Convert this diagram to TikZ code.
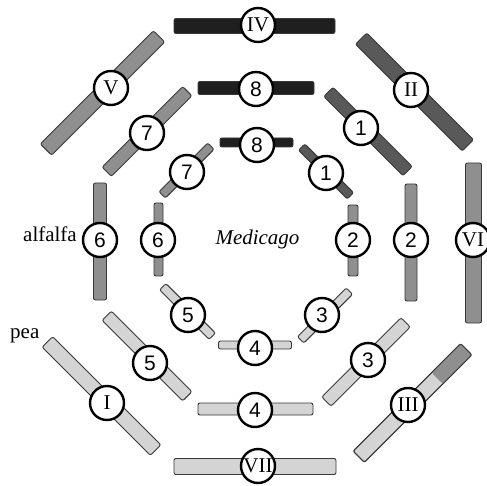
\documentclass[tikz,border=0pt]{standalone}
\usepackage{fontspec}
\setmainfont{Liberation Serif}
\newfontfamily\sansf{Liberation Sans}
\definecolor{cK}{gray}{0.12}
\definecolor{cD}{gray}{0.35}
\definecolor{cM}{gray}{0.56}
\definecolor{cL}{gray}{0.83}
\definecolor{cO}{gray}{0.22}
\begin{document}
\begin{tikzpicture}[x=1pt,y=-1pt,
  bar/.style={draw=cO, line width=0.9pt, rounded corners=2pt, inner sep=0pt, outer sep=0pt},
  cen/.style={circle, draw=black, line width=2.4pt, fill=white, minimum size=34pt, inner sep=0pt},
  dig/.style={cen, font=\sansf\fontsize{21}{21}\selectfont},
  rom/.style={cen, font=\fontsize{21}{21}\selectfont},
  lab/.style={font=\fontsize{21}{21}\selectfont, inner sep=0pt}]
\useasboundingbox (0,0) rectangle (487,486);
\fill[white] (0,0) rectangle (487,486);
% ---- outer ring (pea)
\node[bar, fill=cK, minimum width=161, minimum height=15] (bIV) at (254.5,26) {};
\node[rom] (IV) at (258,25) {IV};
\node[bar, fill=cD, minimum width=151, minimum height=16, rotate=-45] (bII) at (414.5,92) {};
\node[rom] (II) at (411,90) {II};
\node[bar, fill=cM, minimum width=16, minimum height=160] (bVI) at (473.5,243) {};
\node[rom] (VI) at (473,240) {VI};
\node[bar, fill=cL, minimum width=152, minimum height=16, rotate=45] (bIII) at (412.5,403) {};
\node[fill=cM, inner sep=0pt, rounded corners=2pt, minimum width=41, minimum height=15, rotate=45] (bIIId) at (451.7,363.8) {};
\node[bar, minimum width=152, minimum height=16, rotate=45] (bIIIo) at (412.5,403) {};
\node[rom] (III) at (408,405) {III};
\node[bar, fill=cL, minimum width=162, minimum height=16] (bVII) at (255,466.5) {};
\node[rom] (VII) at (258,466) {VII};
\node[bar, fill=cL, minimum width=153, minimum height=15, rotate=-45] (bI) at (101.5,396) {};
\node[rom] (I) at (107,403) {I};
\node[bar, fill=cM, minimum width=160, minimum height=16, rotate=45] (bV) at (102.5,93) {};
\node[rom] (V) at (111,88) {V};
% ---- middle ring (alfalfa)
\node[bar, fill=cK, minimum width=116, minimum height=13] (bm8) at (256,88) {};
\node[dig] (m8) at (256,89) {8};
\node[bar, fill=cD, minimum width=112, minimum height=13, rotate=-45] (bm1) at (368,131.5) {};
\node[dig] (m1) at (361,128) {1};
\node[bar, fill=cM, minimum width=12, minimum height=117] (bm2) at (411,242.5) {};
\node[dig] (m2) at (411,240) {2};
\node[bar, fill=cL, minimum width=112, minimum height=13, rotate=45] (bm3) at (366,362) {};
\node[dig] (m3) at (368,360) {3};
\node[bar, fill=cL, minimum width=115, minimum height=12] (bm4) at (255.5,409) {};
\node[dig] (m4) at (255,410) {4};
\node[bar, fill=cL, minimum width=114, minimum height=13, rotate=-45] (bm5) at (147,356) {};
\node[dig] (m5) at (150,363) {5};
\node[bar, fill=cM, minimum width=13, minimum height=117] (bm6) at (100,241.5) {};
\node[dig] (m6) at (100,240) {6};
\node[bar, fill=cM, minimum width=114, minimum height=13, rotate=45] (bm7) at (147,131.5) {};
\node[dig] (m7) at (147,133) {7};
% ---- inner ring (Medicago)
\node[bar, fill=cK, minimum width=73, minimum height=9] (bi8) at (256.5,142.5) {};
\node[dig] (i8) at (257,145) {8};
\node[bar, fill=cD, minimum width=69, minimum height=9, rotate=-45] (bi1) at (326,171.5) {};
\node[dig] (i1) at (326,173) {1};
\node[bar, fill=cM, minimum width=10, minimum height=71] (bi2) at (353,240.5) {};
\node[dig] (i2) at (353,240) {2};
\node[bar, fill=cL, minimum width=69, minimum height=9, rotate=45] (bi3) at (325,315.5) {};
\node[dig] (i3) at (322,315) {3};
\node[bar, fill=cL, minimum width=73, minimum height=8] (bi4) at (255,345) {};
\node[dig] (i4) at (255,348) {4};
\node[bar, fill=cL, minimum width=70, minimum height=9, rotate=-45] (bi5) at (187.5,311.5) {};
\node[dig] (i5) at (188,315) {5};
\node[bar, fill=cM, minimum width=9, minimum height=73] (bi6) at (158.5,239.5) {};
\node[dig] (i6) at (158,240) {6};
\node[bar, fill=cM, minimum width=69, minimum height=9, rotate=45] (bi7) at (186.5,170.5) {};
\node[dig] (i7) at (187,172) {7};
% ---- labels
\node[lab, anchor=base east] (alf) at (77,242) {alfalfa};
\node[lab, anchor=base west] (pea) at (10,338) {pea};
\node[lab, anchor=base] (med) at (257.5,245) {\itshape Medicago};
\end{tikzpicture}
\end{document}
